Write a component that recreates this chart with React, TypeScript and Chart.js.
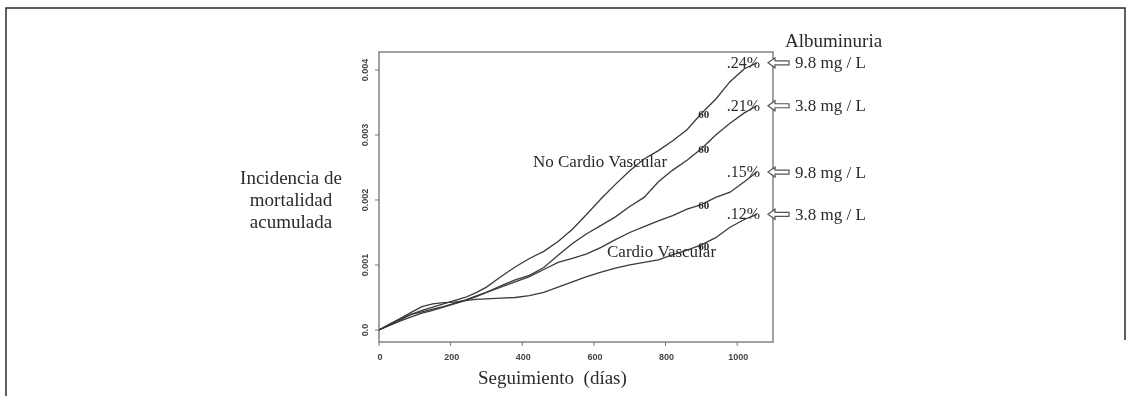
import React, { useEffect, useRef } from "react";
import { Chart, registerables } from "chart.js";

Chart.register(...registerables);

// Follow-up time (days) shared by the four cumulative-incidence curves
const followUpDays = [
  0, 30, 60, 90, 120, 150, 180, 210, 240, 270, 300, 340, 380, 420, 460, 500,
  540, 580, 620, 660, 700, 740, 780, 820, 860, 900, 940, 980, 1020, 1055,
];

// No cardiovascular mortality, albuminuria 9.8 mg/L
const noCardioHigh = [
  0, 0.00008, 0.00016, 0.00024, 0.0003, 0.00035, 0.0004, 0.00045, 0.0005,
  0.00057, 0.00066, 0.00082, 0.00097, 0.0011, 0.00121, 0.00136, 0.00155,
  0.00178, 0.00202, 0.00224, 0.00245, 0.00263, 0.00276, 0.00291, 0.00308,
  0.00333, 0.00355, 0.00382, 0.00402, 0.00411,
];

// No cardiovascular mortality, albuminuria 3.8 mg/L
const noCardioLow = [
  0, 0.00007, 0.00014, 0.0002, 0.00026, 0.0003, 0.00035, 0.0004, 0.00045,
  0.00051, 0.00058, 0.00068, 0.00077, 0.00084, 0.00096, 0.00115, 0.00133,
  0.00148, 0.00161, 0.00174, 0.0019, 0.00204, 0.00228, 0.00246, 0.00261,
  0.00279, 0.003, 0.00318, 0.00334, 0.00345,
];

// Cardiovascular mortality, albuminuria 9.8 mg/L
const cardioHigh = [
  0, 0.00009, 0.00017, 0.00024, 0.00028, 0.00032, 0.00036, 0.00041, 0.00046,
  0.00052, 0.00058, 0.00066, 0.00074, 0.00082, 0.00093, 0.00104, 0.0011,
  0.00117, 0.00127, 0.00139, 0.0015, 0.00159, 0.00168, 0.00176, 0.00186,
  0.00193, 0.00204, 0.00212, 0.00228, 0.00243,
];

// Cardiovascular mortality, albuminuria 3.8 mg/L
const cardioLow = [
  0, 0.00009, 0.00018, 0.00027, 0.00036, 0.0004, 0.00042, 0.00043, 0.00045,
  0.00047, 0.00048, 0.00049, 0.0005, 0.00053, 0.00058, 0.00066, 0.00074,
  0.00082, 0.00089, 0.00095, 0.001, 0.00104, 0.00108, 0.00116, 0.00123,
  0.00131, 0.00142, 0.00158, 0.0017, 0.00178,
];

const xTicks = [0, 200, 400, 600, 800, 1000];
const yTicks = [0, 0.001, 0.002, 0.003, 0.004];
const yTickLabels = ["0.0", "0.001", "0.002", "0.003", "0.004"];

// End-of-curve percentages and albuminuria levels, top to bottom
const endPercents = [".24%", ".21%", ".15%", ".12%"];
const albuminuriaLevels = ["9.8 mg / L", "3.8 mg / L", "9.8 mg / L", "3.8 mg / L"];
const yTitleLines = ["Incidencia de", "mortalidad", "acumulada"];
const xTitle = "Seguimiento  (días)";

// Day at which the small "60" markers sit on each curve
const markerDay = 900;

const W = 1131;
const H = 412;
const SERIF = '"Liberation Serif", "Times New Roman", serif';
const SANS = '"Liberation Sans", Arial, sans-serif';

const series = [noCardioHigh, noCardioLow, cardioHigh, cardioLow];

const annotate = {
  id: "annotate",
  beforeDatasetsDraw(chart: any) {
    const { ctx, chartArea: a, scales } = chart;
    const xs = scales.x;
    const ys = scales.y;
    ctx.save();
    // outer figure frame
    ctx.strokeStyle = "#2a2a2a";
    ctx.lineWidth = 1.5;
    ctx.beginPath();
    ctx.moveTo(6, 396);
    ctx.lineTo(6, 8);
    ctx.lineTo(1125, 8);
    ctx.lineTo(1125, 340);
    ctx.stroke();

    // plot box
    ctx.strokeStyle = "#8a8a8a";
    ctx.lineWidth = 1.6;
    ctx.strokeRect(a.left, a.top, a.right - a.left, a.bottom - a.top);

    // y ticks and rotated labels
    ctx.strokeStyle = "#777";
    ctx.lineWidth = 1;
    ctx.fillStyle = "#444";
    ctx.font = `bold 9px ${SANS}`;
    ctx.textAlign = "center";
    ctx.textBaseline = "middle";
    yTicks.forEach((v, i) => {
      const py = ys.getPixelForValue(v);
      ctx.beginPath();
      ctx.moveTo(a.left - 4, py);
      ctx.lineTo(a.left, py);
      ctx.stroke();
      ctx.save();
      ctx.translate(a.left - 13, py);
      ctx.rotate(-Math.PI / 2);
      ctx.fillText(yTickLabels[i], 0, 0);
      ctx.restore();
    });

    // x ticks and labels
    xTicks.forEach((d) => {
      const px = xs.getPixelForValue(d);
      ctx.beginPath();
      ctx.moveTo(px, a.bottom);
      ctx.lineTo(px, a.bottom + 4);
      ctx.stroke();
      ctx.fillText(String(d), px + 1, a.bottom + 16);
    });
    ctx.restore();
  },
  afterDatasetsDraw(chart: any) {
    const { ctx, chartArea: a, scales } = chart;
    const xs = scales.x;
    const ys = scales.y;
    ctx.save();
    ctx.fillStyle = "#2b2b2b";
    ctx.textBaseline = "middle";

    // axis titles
    ctx.font = `19px ${SERIF}`;
    ctx.textAlign = "center";
    yTitleLines.forEach((t, i) => ctx.fillText(t, 291, 179 + i * 22));
    ctx.textAlign = "left";
    ctx.fillText(xTitle, 478, 379);

    // curve group labels
    ctx.font = `17px ${SERIF}`;
    ctx.fillText("No Cardio Vascular", 533, 163);
    ctx.fillText("Cardio Vascular", 607, 253);

    // small markers on each curve
    ctx.font = `bold 11px ${SERIF}`;
    ctx.textAlign = "left";
    const mi = followUpDays.indexOf(markerDay);
    series.forEach((s) => {
      const px = xs.getPixelForValue(markerDay);
      const py = ys.getPixelForValue(s[mi]);
      ctx.fillText("60", px - 3, py + 2);
    });

    // end-of-curve percentages, arrows and albuminuria levels
    const last = followUpDays.length - 1;
    const rowY = series.map((s) => ys.getPixelForValue(s[last]));
    ctx.font = `16px ${SERIF}`;
    endPercents.forEach((t, i) => {
      ctx.textAlign = "right";
      ctx.fillText(t, 760, rowY[i] + 1);
    });

    ctx.font = `19px ${SERIF}`;
    ctx.textAlign = "left";
    ctx.fillText("Albuminuria", 785, 42);

    ctx.font = `17px ${SERIF}`;
    albuminuriaLevels.forEach((t, i) => {
      const y = rowY[i];
      const tip = a.right - 5;
      ctx.beginPath();
      ctx.moveTo(tip, y);
      ctx.lineTo(tip + 7, y - 5);
      ctx.lineTo(tip + 7, y - 2);
      ctx.lineTo(tip + 21, y - 2);
      ctx.lineTo(tip + 21, y + 2);
      ctx.lineTo(tip + 7, y + 2);
      ctx.lineTo(tip + 7, y + 5);
      ctx.closePath();
      ctx.fillStyle = "#fff";
      ctx.fill();
      ctx.strokeStyle = "#555";
      ctx.lineWidth = 1.2;
      ctx.stroke();
      ctx.fillStyle = "#2b2b2b";
      ctx.fillText(t, 795, y + 1);
    });
    ctx.restore();
  },
};

export default function App() {
  const ref = useRef<HTMLCanvasElement | null>(null);

  useEffect(() => {
    if (!ref.current) return;
    const chart = new Chart(ref.current, {
      type: "line",
      data: {
        datasets: series.map((s, i) => ({
          label: String(i),
          data: followUpDays.map((d, j) => ({ x: d, y: s[j] })),
          borderColor: "#3a3a3a",
          borderWidth: 1.3,
          pointRadius: 0,
          tension: 0,
          fill: false,
        })),
      },
      options: {
        responsive: false,
        animation: false,
        events: [],
        layout: { padding: { left: 379, right: W - 773, top: 52, bottom: H - 342 } },
        plugins: { legend: { display: false }, tooltip: { enabled: false } },
        scales: {
          x: { type: "linear", min: 0, max: 1100, display: false },
          y: { type: "linear", min: -0.000185, max: 0.004277, display: false },
        },
      },
      plugins: [annotate],
    });
    return () => chart.destroy();
  }, []);

  return (
    <div style={{ position: "fixed", left: 0, top: 0, width: W, height: H, background: "#fff" }}>
      <canvas ref={ref} width={W} height={H} style={{ width: W, height: H, display: "block" }} />
    </div>
  );
}
